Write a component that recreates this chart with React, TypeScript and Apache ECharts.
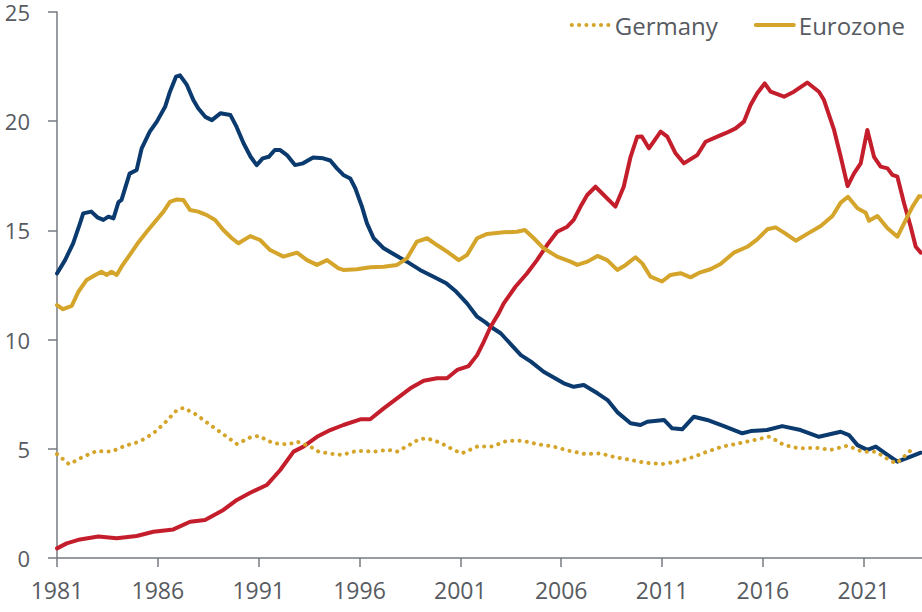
import React, { useEffect, useRef } from "react";
import * as echarts from "echarts";

// ---- Data (share, %) ----
const xTickYears = [1981, 1986, 1991, 1996, 2001, 2006, 2011, 2016, 2021];
const yTicks = [0, 5, 10, 15, 20, 25];

// Navy series (unlabelled in legend)
const navyYears = [1981.0, 1981.4, 1981.8, 1982.14, 1982.3, 1982.7, 1983.0, 1983.3, 1983.55, 1983.8, 1984.05, 1984.2, 1984.6, 1984.95, 1985.2, 1985.6, 1985.95, 1986.36, 1986.6, 1986.9, 1987.1, 1987.44, 1987.76, 1988.0, 1988.35, 1988.68, 1989.1, 1989.6, 1989.9, 1990.25, 1990.6, 1990.9, 1991.2, 1991.5, 1991.8, 1992.07, 1992.4, 1992.8, 1993.2, 1993.7, 1994.2, 1994.55, 1994.88, 1995.2, 1995.54, 1995.79, 1996.12, 1996.37, 1996.7, 1997.2, 1997.77, 1998.35, 1999.0, 1999.67, 2000.3, 2000.8, 2001.33, 2001.83, 2002.3, 2002.5, 2003.0, 2004.0, 2004.5, 2005.13, 2006.13, 2006.62, 2007.12, 2007.8, 2008.3, 2008.78, 2009.44, 2009.93, 2010.27, 2011.1, 2011.5, 2012.0, 2012.58, 2013.24, 2014.07, 2014.98, 2015.4, 2016.2, 2016.96, 2017.87, 2018.78, 2019.86, 2020.27, 2020.69, 2021.18, 2021.6, 2022.18, 2022.67, 2023.33, 2023.83];
const navyValues = [13.03, 13.64, 14.41, 15.32, 15.78, 15.86, 15.6, 15.48, 15.63, 15.55, 16.3, 16.4, 17.6, 17.77, 18.76, 19.52, 19.98, 20.66, 21.35, 22.04, 22.1, 21.66, 20.97, 20.59, 20.2, 20.05, 20.36, 20.28, 19.75, 18.99, 18.37, 17.99, 18.3, 18.37, 18.68, 18.68, 18.45, 17.99, 18.07, 18.34, 18.3, 18.2, 17.84, 17.54, 17.38, 16.93, 16.09, 15.32, 14.64, 14.18, 13.87, 13.57, 13.19, 12.88, 12.58, 12.19, 11.66, 11.05, 10.75, 10.59, 10.29, 9.29, 8.99, 8.53, 8.0, 7.84, 7.92, 7.54, 7.23, 6.68, 6.17, 6.09, 6.24, 6.32, 5.94, 5.89, 6.47, 6.32, 6.04, 5.71, 5.81, 5.86, 6.04, 5.86, 5.55, 5.78, 5.63, 5.17, 4.95, 5.1, 4.72, 4.41, 4.64, 4.82];

// Red series (unlabelled in legend)
const redYears = [1981.0, 1981.48, 1982.14, 1983.05, 1983.96, 1984.95, 1985.78, 1986.77, 1987.6, 1988.34, 1989.25, 1989.92, 1990.58, 1991.4, 1992.07, 1992.73, 1993.22, 1993.89, 1994.55, 1995.2, 1996.04, 1996.53, 1997.2, 1997.86, 1998.52, 1999.18, 1999.84, 2000.34, 2000.84, 2001.41, 2001.83, 2002.16, 2002.5, 2002.9, 2003.15, 2003.73, 2004.31, 2004.8, 2005.3, 2005.8, 2006.3, 2006.62, 2006.96, 2007.29, 2007.7, 2008.11, 2008.69, 2009.1, 2009.44, 2009.77, 2010.0, 2010.35, 2010.93, 2011.26, 2011.67, 2012.08, 2012.75, 2013.16, 2013.74, 2014.15, 2014.65, 2015.06, 2015.39, 2015.72, 2016.09, 2016.38, 2017.05, 2017.54, 2018.2, 2018.78, 2019.03, 2019.53, 2019.86, 2020.2, 2020.52, 2020.85, 2021.18, 2021.51, 2021.84, 2022.18, 2022.42, 2022.67, 2023.0, 2023.33, 2023.58, 2023.83];
const redValues = [0.44, 0.67, 0.85, 0.98, 0.9, 1.01, 1.2, 1.31, 1.66, 1.74, 2.2, 2.66, 2.99, 3.34, 4.03, 4.87, 5.1, 5.55, 5.86, 6.09, 6.35, 6.35, 6.85, 7.31, 7.77, 8.12, 8.23, 8.23, 8.61, 8.79, 9.29, 9.9, 10.59, 11.2, 11.66, 12.42, 13.04, 13.64, 14.33, 14.94, 15.17, 15.48, 16.09, 16.62, 17.0, 16.62, 16.09, 17.0, 18.37, 19.29, 19.3, 18.76, 19.52, 19.29, 18.53, 18.07, 18.45, 19.06, 19.29, 19.45, 19.67, 19.98, 20.74, 21.28, 21.73, 21.35, 21.12, 21.35, 21.77, 21.35, 20.97, 19.6, 18.37, 17.03, 17.61, 18.07, 19.6, 18.37, 17.92, 17.84, 17.54, 17.46, 16.24, 15.17, 14.25, 13.98];

// Germany (dotted gold)
const germanyYears = [1981.0, 1981.6, 1982.3, 1982.97, 1983.7, 1984.37, 1985.1, 1985.78, 1986.36, 1986.9, 1987.27, 1987.93, 1988.6, 1989.25, 1989.92, 1990.58, 1991.0, 1991.73, 1992.48, 1992.9, 1993.56, 1993.97, 1994.7, 1995.13, 1995.87, 1996.7, 1997.44, 1997.86, 1998.52, 1998.93, 1999.35, 2000.0, 2000.67, 2001.08, 2001.83, 2002.57, 2003.32, 2004.06, 2004.89, 2005.63, 2006.38, 2007.2, 2007.95, 2008.65, 2009.44, 2010.18, 2011.0, 2011.75, 2012.5, 2013.24, 2013.99, 2014.81, 2015.56, 2016.3, 2016.63, 2017.05, 2017.79, 2018.62, 2019.36, 2020.2, 2020.93, 2021.6, 2022.26, 2022.62, 2023.22, 2023.5];
const germanyValues = [4.76, 4.29, 4.64, 4.9, 4.87, 5.14, 5.33, 5.71, 6.2, 6.73, 6.88, 6.55, 6.09, 5.66, 5.22, 5.52, 5.59, 5.25, 5.2, 5.33, 5.1, 4.87, 4.76, 4.72, 4.91, 4.87, 4.95, 4.87, 5.2, 5.43, 5.48, 5.28, 4.95, 4.79, 5.1, 5.1, 5.37, 5.37, 5.2, 5.1, 4.91, 4.76, 4.79, 4.62, 4.49, 4.36, 4.3, 4.41, 4.61, 4.87, 5.1, 5.25, 5.4, 5.55, 5.4, 5.17, 5.02, 5.05, 4.95, 5.14, 4.87, 4.87, 4.49, 4.33, 4.82, 5.1];

// Eurozone (solid gold)
const eurozoneYears = [1981.0, 1981.3, 1981.73, 1982.06, 1982.47, 1982.9, 1983.2, 1983.47, 1983.7, 1983.96, 1984.2, 1984.6, 1985.0, 1985.45, 1985.86, 1986.28, 1986.6, 1986.94, 1987.27, 1987.6, 1988.0, 1988.43, 1988.84, 1989.25, 1989.67, 1990.0, 1990.58, 1991.07, 1991.57, 1992.23, 1992.9, 1993.4, 1993.89, 1994.39, 1994.96, 1995.2, 1995.87, 1996.53, 1997.2, 1997.86, 1998.35, 1998.85, 1999.35, 1999.84, 2000.34, 2000.92, 2001.33, 2001.83, 2002.33, 2003.15, 2003.8, 2004.2, 2004.64, 2005.13, 2005.8, 2006.46, 2006.8, 2007.3, 2007.8, 2008.28, 2008.78, 2009.2, 2009.68, 2010.02, 2010.43, 2011.0, 2011.42, 2011.92, 2012.41, 2012.9, 2013.4, 2013.9, 2014.56, 2015.23, 2015.72, 2016.22, 2016.63, 2017.05, 2017.63, 2018.2, 2018.87, 2019.45, 2019.86, 2020.22, 2020.69, 2021.1, 2021.26, 2021.68, 2022.18, 2022.67, 2023.0, 2023.42, 2023.75, 2023.89];
const eurozoneValues = [11.58, 11.39, 11.54, 12.19, 12.73, 12.96, 13.11, 12.96, 13.11, 12.96, 13.34, 13.87, 14.41, 14.94, 15.4, 15.86, 16.31, 16.42, 16.39, 15.93, 15.86, 15.7, 15.48, 15.02, 14.64, 14.41, 14.74, 14.56, 14.1, 13.8, 13.98, 13.64, 13.42, 13.64, 13.26, 13.19, 13.22, 13.31, 13.34, 13.42, 13.72, 14.49, 14.64, 14.33, 14.03, 13.64, 13.87, 14.64, 14.84, 14.91, 14.94, 15.02, 14.64, 14.18, 13.8, 13.57, 13.42, 13.57, 13.83, 13.64, 13.19, 13.42, 13.77, 13.49, 12.88, 12.66, 12.96, 13.04, 12.85, 13.08, 13.22, 13.46, 13.98, 14.25, 14.59, 15.05, 15.14, 14.9, 14.53, 14.84, 15.2, 15.66, 16.27, 16.54, 16.01, 15.81, 15.44, 15.66, 15.1, 14.71, 15.32, 16.09, 16.57, 16.55];

const zip = (xs: number[], ys: number[]) => xs.map((x, i) => [x, ys[i]]);

const NAVY = "#0a3a6e";
const RED = "#c41e2c";
const GOLD = "#d4a52a";
const AXIS = "#767a80";
const TEXT = "#575b61";
const FONT = "'Open Sans', 'Noto Sans', sans-serif";

export default function App() {
  const ref = useRef<HTMLDivElement>(null);

  useEffect(() => {
    if (!ref.current) return;
    const chart = echarts.init(ref.current, undefined, { renderer: "svg" });
    chart.setOption({
      animation: false,
      backgroundColor: "#ffffff",
      textStyle: { fontFamily: FONT },
      grid: { left: 57, right: 0, top: 12, bottom: 54, containLabel: false },
      legend: {
        right: 12,
        top: 8,
        itemWidth: 38,
        itemHeight: 14,
        itemGap: 36,
        data: ["Germany", "Eurozone"],
        itemStyle: { opacity: 0 },
        lineStyle: { width: 4 },
        textStyle: { fontSize: 24, color: TEXT, fontFamily: FONT },
      },
      xAxis: {
        type: "value",
        min: 1981,
        max: 2023.89,
        axisLine: { show: true, lineStyle: { color: AXIS, width: 1.5 } },
        axisTick: {
          show: true,
          length: 9,
          customValues: xTickYears,
          lineStyle: { color: AXIS, width: 1.5 },
        },
        axisLabel: {
          customValues: xTickYears,
          fontSize: 23,
          color: TEXT,
          margin: 20,
          fontFamily: FONT,
          formatter: (v: number) => String(v),
        },
        splitLine: { show: false },
      },
      yAxis: {
        type: "value",
        min: 0,
        max: 25,
        interval: 5,
        axisLine: { show: true, lineStyle: { color: AXIS, width: 1.5 } },
        axisTick: { show: true, length: 9, lineStyle: { color: AXIS, width: 1.5 } },
        axisLabel: {
          fontSize: 22,
          lineHeight: 20,
          padding: [4, 0, 0, 0],
          color: TEXT,
          margin: 27,
          fontFamily: FONT,
          formatter: (v: number) => (yTicks.includes(v) ? String(v) : ""),
        },
        splitLine: { show: false },
      },
      series: [
        {
          name: "Japan",
          type: "line",
          data: zip(navyYears, navyValues),
          symbol: "none",
          lineStyle: { color: NAVY, width: 4, join: "round", cap: "round" },
          itemStyle: { color: NAVY },
        },
        {
          name: "China",
          type: "line",
          data: zip(redYears, redValues),
          symbol: "none",
          lineStyle: { color: RED, width: 4, join: "round", cap: "round" },
          itemStyle: { color: RED },
        },
        {
          name: "Germany",
          type: "line",
          data: zip(germanyYears, germanyValues),
          symbol: "none",
          lineStyle: { color: GOLD, width: 4, type: [0.1, 7.2], cap: "round", join: "round" },
          itemStyle: { color: GOLD },
        },
        {
          name: "Eurozone",
          type: "line",
          data: zip(eurozoneYears, eurozoneValues),
          symbol: "none",
          lineStyle: { color: GOLD, width: 4, join: "round", cap: "round" },
          itemStyle: { color: GOLD },
        },
      ],
    });
    return () => chart.dispose();
  }, []);

  return (
    <div
      ref={ref}
      style={{ position: "absolute", left: 0, top: 0, width: 922, height: 612, background: "#fff" }}
    />
  );
}
